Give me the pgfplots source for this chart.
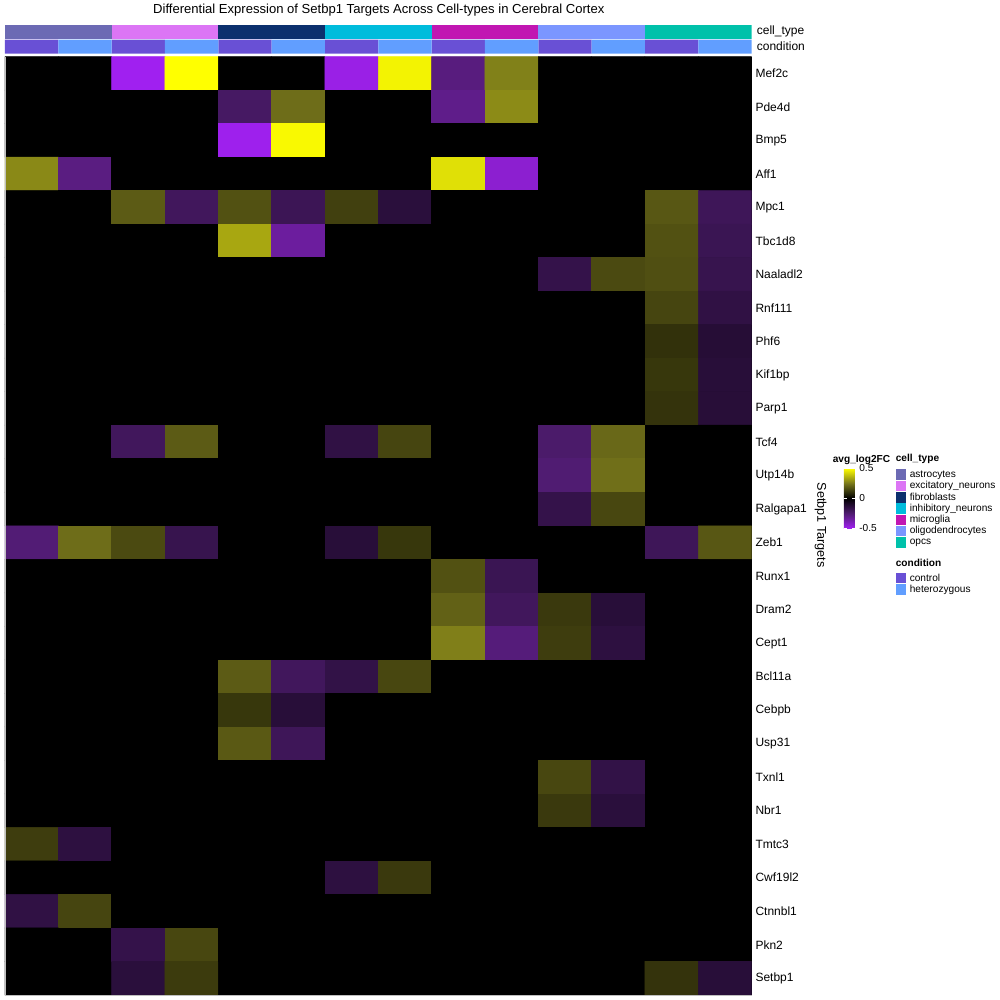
\documentclass[border=0pt]{standalone}
\usepackage{fontspec}
\setmainfont{Liberation Sans}
\usepackage{pgfplots}
\pgfplotsset{compat=1.18}

\definecolor{cAstro}{RGB}{108,106,180}
\definecolor{cExc}{RGB}{220,117,245}
\definecolor{cFib}{RGB}{12,48,110}
\definecolor{cInh}{RGB}{0,188,220}
\definecolor{cMic}{RGB}{193,22,178}
\definecolor{cOli}{RGB}{123,150,255}
\definecolor{cOpc}{RGB}{0,193,170}
\definecolor{cCtrl}{RGB}{105,80,213}
\definecolor{cHet}{RGB}{97,158,255}

\newcommand{\lblfont}{\fontsize{9}{10}\selectfont}
\newcommand{\legfont}{\fontsize{7.6}{9}\selectfont}

\pgfplotsset{
  annot/.style={at={#1}, anchor=north west, scale only axis,
    width=560.25pt, height=10.5pt, xmin=-0.5, xmax=13.5, ymin=0, ymax=1, hide axis},
  cell/.style={ybar, bar shift=0pt, bar width=#1, draw=none},
}

\begin{document}
\begin{tikzpicture}
% page box, 1 px = 0.75pt
\path (0pt,0pt) rectangle (750pt,-750pt);

% cell_type annotation
\begin{axis}[annot={(3.75pt,-18pt)}]
  \addplot[cell=2, fill=cAstro] coordinates {(0.5,1)};
  \addplot[cell=2, fill=cExc] coordinates {(2.5,1)};
  \addplot[cell=2, fill=cFib] coordinates {(4.5,1)};
  \addplot[cell=2, fill=cInh] coordinates {(6.5,1)};
  \addplot[cell=2, fill=cMic] coordinates {(8.5,1)};
  \addplot[cell=2, fill=cOli] coordinates {(10.5,1)};
  \addplot[cell=2, fill=cOpc] coordinates {(12.5,1)};
\end{axis}

% condition annotation
\begin{axis}[annot={(3.75pt,-29.25pt)}]
  \addplot[cell=1, fill=cCtrl] coordinates {(0,1) (2,1) (4,1) (6,1) (8,1) (10,1) (12,1)};
  \addplot[cell=1, fill=cHet] coordinates {(1,1) (3,1) (5,1) (7,1) (9,1) (11,1) (13,1)};
\end{axis}

% heatmap, one source line per gene, 14 columns (cell type x condition)
\begin{axis}[
  at={(3.75pt,-42pt)}, anchor=north west,
  scale only axis, width=560.25pt, height=704.25pt,
  xmin=-0.5, xmax=13.5, ymin=-0.5, ymax=27.5, y dir=reverse,
  axis background/.style={fill=black},
  axis line style={draw=none},
  xtick=\empty,
  ytick={0,...,27},
  yticklabels={Mef2c,Pde4d,Bmp5,Aff1,Mpc1,Tbc1d8,Naaladl2,Rnf111,Phf6,Kif1bp,
    Parp1,Tcf4,Utp14b,Ralgapa1,Zeb1,Runx1,Dram2,Cept1,Bcl11a,Cebpb,Usp31,
    Txnl1,Nbr1,Tmtc3,Cwf19l2,Ctnnbl1,Pkn2,Setbp1},
  yticklabel pos=right, major tick length=0pt,
  yticklabel style={font=\lblfont, anchor=west, xshift=-0.6pt},
  colormap={lfc}{rgb255=(160,32,240) rgb255=(79,28,112) rgb255=(0,0,0)
    rgb255=(120,119,27) rgb255=(255,255,0)},
  point meta min=-0.5, point meta max=0.5,
  colorbar,
  colorbar style={
    at={(parent axis.north east)}, anchor=north west,
    xshift=60.75pt, yshift=-309pt,
    scale only axis, width=8pt, height=45pt,
    axis line style={draw=none},
    ytick={-0.5,0,0.5}, yticklabels={-0.5,0,0.5},
    ytick pos=both, yticklabel pos=right, ytick align=inside,
    major tick length=2pt, tick style={white, line width=0.6pt},
    yticklabel style={font=\legfont},
  },
]
\addplot[matrix plot*, mesh/cols=14, point meta=explicit]
  table[row sep=\\, meta=c,
        x expr={\coordindex-14*floor((\coordindex+0.5)/14)},
        y expr={floor((\coordindex+0.5)/14)}] {
  c\\
  0\\ 0\\ -0.5\\ 0.5\\ 0\\ 0\\ -0.48\\ 0.478\\ -0.278\\ 0.268\\ 0\\ 0\\ 0\\ 0\\
  0\\ 0\\ 0\\ 0\\ -0.22\\ 0.229\\ 0\\ 0\\ -0.3\\ 0.287\\ 0\\ 0\\ 0\\ 0\\
  0\\ 0\\ 0\\ 0\\ -0.495\\ 0.49\\ 0\\ 0\\ 0\\ 0\\ 0\\ 0\\ 0\\ 0\\
  0.283\\ -0.284\\ 0\\ 0\\ 0\\ 0\\ 0\\ 0\\ 0.444\\ -0.438\\ 0\\ 0\\ 0\\ 0\\
  0\\ 0\\ 0.192\\ -0.206\\ 0.171\\ -0.19\\ 0.135\\ -0.133\\ 0\\ 0\\ 0\\ 0\\ 0.183\\ -0.196\\
  0\\ 0\\ 0\\ 0\\ 0.339\\ -0.34\\ 0\\ 0\\ 0\\ 0\\ 0\\ 0\\ 0.171\\ -0.184\\
  0\\ 0\\ 0\\ 0\\ 0\\ 0\\ 0\\ 0\\ 0\\ 0\\ -0.165\\ 0.156\\ 0.167\\ -0.174\\
  0\\ 0\\ 0\\ 0\\ 0\\ 0\\ 0\\ 0\\ 0\\ 0\\ 0\\ 0\\ 0.146\\ -0.152\\
  0\\ 0\\ 0\\ 0\\ 0\\ 0\\ 0\\ 0\\ 0\\ 0\\ 0\\ 0\\ 0.104\\ -0.12\\
  0\\ 0\\ 0\\ 0\\ 0\\ 0\\ 0\\ 0\\ 0\\ 0\\ 0\\ 0\\ 0.115\\ -0.127\\
  0\\ 0\\ 0\\ 0\\ 0\\ 0\\ 0\\ 0\\ 0\\ 0\\ 0\\ 0\\ 0.108\\ -0.125\\
  0\\ 0\\ -0.206\\ 0.192\\ 0\\ 0\\ -0.152\\ 0.146\\ 0\\ 0\\ -0.237\\ 0.219\\ 0\\ 0\\
  0\\ 0\\ 0\\ 0\\ 0\\ 0\\ 0\\ 0\\ 0\\ 0\\ -0.253\\ 0.233\\ 0\\ 0\\
  0\\ 0\\ 0\\ 0\\ 0\\ 0\\ 0\\ 0\\ 0\\ 0\\ -0.165\\ 0.15\\ 0\\ 0\\
  -0.26\\ 0.229\\ 0.156\\ -0.174\\ 0\\ 0\\ -0.127\\ 0.115\\ 0\\ 0\\ 0\\ 0\\ -0.196\\ 0.183\\
  0\\ 0\\ 0\\ 0\\ 0\\ 0\\ 0\\ 0\\ 0.171\\ -0.184\\ 0\\ 0\\ 0\\ 0\\
  0\\ 0\\ 0\\ 0\\ 0\\ 0\\ 0\\ 0\\ 0.204\\ -0.206\\ 0.121\\ -0.127\\ 0\\ 0\\
  0\\ 0\\ 0\\ 0\\ 0\\ 0\\ 0\\ 0\\ 0.265\\ -0.269\\ 0.129\\ -0.142\\ 0\\ 0\\
  0\\ 0\\ 0\\ 0\\ 0.192\\ -0.206\\ -0.158\\ 0.15\\ 0\\ 0\\ 0\\ 0\\ 0\\ 0\\
  0\\ 0\\ 0\\ 0\\ 0.115\\ -0.127\\ 0\\ 0\\ 0\\ 0\\ 0\\ 0\\ 0\\ 0\\
  0\\ 0\\ 0\\ 0\\ 0.188\\ -0.196\\ 0\\ 0\\ 0\\ 0\\ 0\\ 0\\ 0\\ 0\\
  0\\ 0\\ 0\\ 0\\ 0\\ 0\\ 0\\ 0\\ 0\\ 0\\ 0.15\\ -0.158\\ 0\\ 0\\
  0\\ 0\\ 0\\ 0\\ 0\\ 0\\ 0\\ 0\\ 0\\ 0\\ 0.121\\ -0.133\\ 0\\ 0\\
  0.129\\ -0.142\\ 0\\ 0\\ 0\\ 0\\ 0\\ 0\\ 0\\ 0\\ 0\\ 0\\ 0\\ 0\\
  0\\ 0\\ 0\\ 0\\ 0\\ 0\\ -0.142\\ 0.121\\ 0\\ 0\\ 0\\ 0\\ 0\\ 0\\
  -0.152\\ 0.146\\ 0\\ 0\\ 0\\ 0\\ 0\\ 0\\ 0\\ 0\\ 0\\ 0\\ 0\\ 0\\
  0\\ 0\\ -0.165\\ 0.15\\ 0\\ 0\\ 0\\ 0\\ 0\\ 0\\ 0\\ 0\\ 0\\ 0\\
  0\\ 0\\ -0.133\\ 0.125\\ 0\\ 0\\ 0\\ 0\\ 0\\ 0\\ 0\\ 0\\ 0.108\\ -0.127\\
};
\end{axis}

% titles and legends, in px units
\begin{scope}[x=0.75pt, y=-0.75pt]
  \draw[gray!50, line width=0.6pt] (5,56) -- (5,995) -- (752,995);
  \node[font=\fontsize{9.8}{11}\selectfont] at (379,10) {Differential Expression of Setbp1 Targets Across Cell-types in Cerebral Cortex};
  \node[font=\lblfont, anchor=west, inner sep=0pt] at (757,31) {cell\_type};
  \node[font=\lblfont, anchor=west, inner sep=0pt] at (757,46) {condition};
  \node[font=\fontsize{9.5}{11}\selectfont, rotate=-90] at (821,525) {Setbp1 Targets};

  \node[font=\legfont\bfseries, anchor=west, inner sep=0pt] at (833,460) {avg\_log2FC};

  \node[font=\legfont\bfseries, anchor=west, inner sep=0pt] at (896,459) {cell\_type};
  \foreach \c/\t [count=\i from 0] in {cAstro/astrocytes, cExc/excitatory\_neurons,
      cFib/fibroblasts, cInh/inhibitory\_neurons, cMic/microglia,
      cOli/oligodendrocytes, cOpc/opcs} {
    \fill[\c] (896,{469.2+11.3*\i}) rectangle (906.5,{479.7+11.3*\i});
    \node[font=\legfont, anchor=west, inner sep=0pt] at (910,{474.5+11.3*\i}) {\t};
  }
  \node[font=\legfont\bfseries, anchor=west, inner sep=0pt] at (896,563) {condition};
  \foreach \c/\t [count=\i from 0] in {cCtrl/control, cHet/heterozygous} {
    \fill[\c] (896,{572.6+11.3*\i}) rectangle (906.5,{583.1+11.3*\i});
    \node[font=\legfont, anchor=west, inner sep=0pt] at (910,{577.9+11.3*\i}) {\t};
  }
\end{scope}
\end{tikzpicture}
\end{document}
